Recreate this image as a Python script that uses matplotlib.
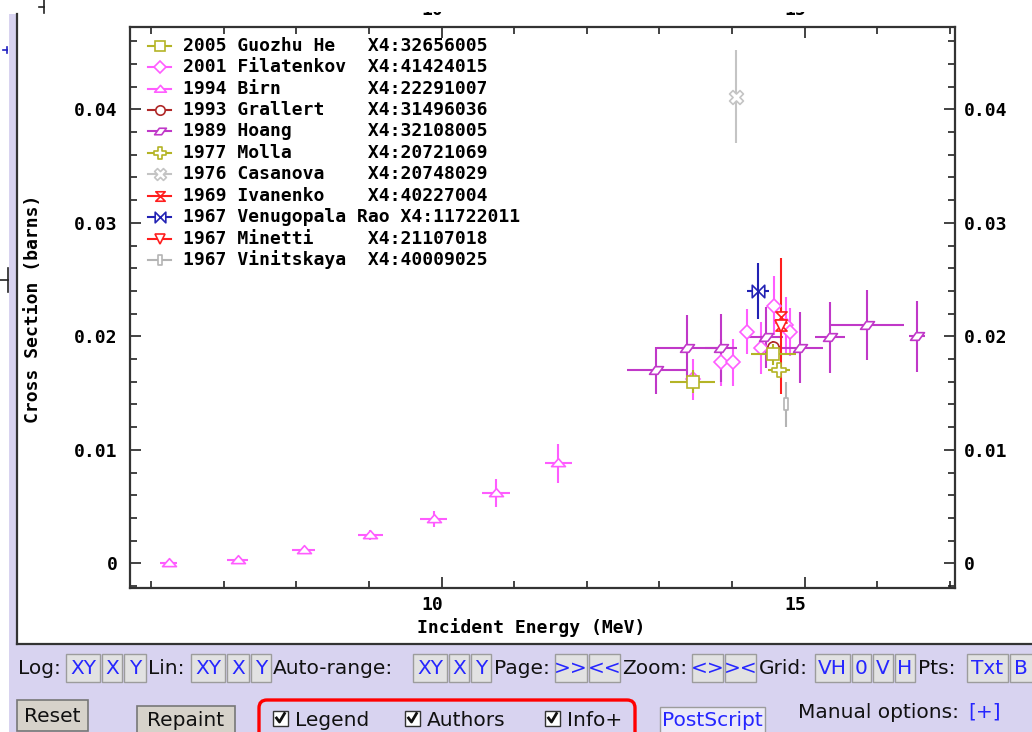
import numpy as np
import matplotlib.pyplot as plt
from matplotlib.path import Path
from matplotlib.patches import Rectangle, FancyBboxPatch
from matplotlib.lines import Line2D
from matplotlib.ticker import MultipleLocator, FuncFormatter
from matplotlib.transforms import IdentityTransform, ScaledTranslation

plt.rcParams['font.family'] = ['DejaVu Sans Mono']
plt.rcParams['font.weight'] = 'bold'

# ---- data: (n,2n) cross section, energy in MeV, sigma in barns ----
he_e = [13.46, 14.57]
he_de = [0.31, 0.31]
he_s = [0.0160, 0.0184]
he_ds = [0.0010, 0.0009]

fil_e = [13.46, 13.85, 14.02, 14.21, 14.40, 14.58, 14.74, 14.80]
fil_s = [0.0162, 0.0177, 0.0177, 0.0204, 0.0190, 0.0227, 0.0210, 0.0204]
fil_ds = [0.0018, 0.0021, 0.0021, 0.0020, 0.0023, 0.0026, 0.0025, 0.0021]

birn_e = [6.24, 7.19, 8.10, 9.02, 9.89, 10.75, 11.61]
birn_de = [0.12, 0.14, 0.16, 0.17, 0.18, 0.19, 0.19]
birn_s = [0.00005, 0.0003, 0.0012, 0.0025, 0.0039, 0.0062, 0.0088]
birn_ds = [0.0001, 0.0002, 0.0003, 0.00045, 0.0007, 0.0012, 0.0017]

gra_e = [14.56]
gra_de = [0.10]
gra_s = [0.0191]
gra_ds = [0.0005]

hoa_e = [12.96, 13.38, 13.85, 14.47, 14.94, 15.35, 15.86, 16.55]
hoa_de = [0.41, 0.41, 0.22, 0.23, 0.32, 0.21, 0.51, 0.11]
hoa_s = [0.0170, 0.0190, 0.0190, 0.0199, 0.0190, 0.0199, 0.0210, 0.0200]
hoa_ds = [0.0021, 0.0029, 0.0030, 0.0027, 0.0031, 0.0031, 0.0031, 0.0031]

mol_e = [14.65]
mol_de = [0.15]
mol_s = [0.0170]
mol_ds = [0.0005]

cas_e = [14.06]
cas_s = [0.0411]
cas_ds = [0.0041]

iva_e = [14.68, 14.68]
iva_s = [0.0217, 0.0210]
iva_ds = [0.0008, 0.0008]

ven_e = [14.36]
ven_de = [0.15]
ven_s = [0.0240]
ven_ds = [0.0025]

min_e = [14.68]
min_s = [0.0209]
min_ds = [0.0060]

vin_e = [14.75]
vin_s = [0.0140]
vin_ds = [0.0020]

labels = [
    "2005 Guozhu He   X4:32656005",
    "2001 Filatenkov  X4:41424015",
    "1994 Birn        X4:22291007",
    "1993 Grallert    X4:31496036",
    "1989 Hoang       X4:32108005",
    "1977 Molla       X4:20721069",
    "1976 Casanova    X4:20748029",
    "1969 Ivanenko    X4:40227004",
    "1967 Venugopala Rao X4:11722011",
    "1967 Minetti     X4:21107018",
    "1967 Vinitskaya  X4:40009025",
]

# ---- marker shapes ----
def poly(pts):
    pts = list(pts) + [pts[0]]
    codes = [Path.MOVETO] + [Path.LINETO] * (len(pts) - 2) + [Path.CLOSEPOLY]
    return Path(pts, codes)

a = 0.33
plus_pts = [(-a, 1), (a, 1), (a, a), (1, a), (1, -a), (a, -a), (a, -1), (-a, -1),
            (-a, -a), (-1, -a), (-1, a), (-a, a)]
c, s_ = np.cos(np.pi / 4), np.sin(np.pi / 4)
cross_pts = [(x * c - y * s_, x * s_ + y * c) for x, y in plus_pts]

m_hoang = poly([(-1, -0.55), (0.2, -0.55), (1, 0.55), (-0.2, 0.55)])
m_tri = poly([(-1, -0.45), (1, -0.45), (0, 0.7)])
m_plus = poly(plus_pts)
m_cross = poly(cross_pts)
m_hour = poly([(-1, 1), (1, 1), (-1, -1), (1, -1)])
m_bow = poly([(-1, 1), (-1, -1), (1, 1), (1, -1)])
m_rect = poly([(-0.3, -1), (0.3, -1), (0.3, 1), (-0.3, 1)])

olive = '#b4b426'
pink = '#ff5cff'
purple = '#c038c8'
red = '#ff1e1e'

series = [
    (he_e, he_s, he_de, he_ds, 's', olive, 8.5, 4),
    (fil_e, fil_s, None, fil_ds, 'D', pink, 6.8, 2),
    (birn_e, birn_s, birn_de, birn_ds, m_tri, pink, 10.0, 2),
    (gra_e, gra_s, gra_de, gra_ds, 'o', '#b02828', 8.0, 2),
    (hoa_e, hoa_s, hoa_de, hoa_ds, m_hoang, purple, 10.0, 2),
    (mol_e, mol_s, mol_de, mol_ds, m_plus, olive, 9.5, 2),
    (cas_e, cas_s, None, cas_ds, m_cross, '#c4c4c4', 10.0, 2),
    (iva_e, iva_s, None, iva_ds, m_hour, red, 8.0, 2),
    (ven_e, ven_s, ven_de, ven_ds, m_bow, '#2222b4', 9.0, 2),
    (min_e, min_s, None, min_ds, 'v', red, 8.0, 2),
    (vin_e, vin_s, None, vin_ds, m_rect, '#b4b4b4', 9.0, 2),
]

W, H = 1032, 732
fig = plt.figure(figsize=(W / 100, H / 100), dpi=100, facecolor='white')
IT = IdentityTransform()


def box(x0, y0, x1, y1, **kw):
    r = Rectangle((x0, H - y1), x1 - x0, y1 - y0, transform=IT, **kw)
    fig.add_artist(r)
    return r


def seg(xs, ys, **kw):
    fig.add_artist(Line2D(xs, [H - y for y in ys], transform=IT, **kw))


def txt(x, y, s, **kw):
    fig.text(x / W, 1 - y / H, s, **kw)


# page background and white plot panel
box(9, 14, W + 5, H + 5, facecolor='#d8d3f0', edgecolor='none', zorder=-3)
box(17, 14, W + 5, 644, facecolor='white', edgecolor='none', zorder=-2)
seg([17, 17], [14, 644], color='#333333', lw=1.6, zorder=-1)
seg([17, W + 5], [644, 644], color='#333333', lw=1.6, zorder=-1)

# ---- main axes ----
ax = fig.add_axes([130 / W, 1 - 588 / H, 825 / W, 561 / H])
ax.set_xlim(5.709, 17.073)
ax.set_ylim(-0.00217, 0.04725)

for e, sg, de, ds, mk, col, ms, zo in series:
    ax.errorbar(e, sg, xerr=de, yerr=ds, fmt='none', ecolor=col,
                elinewidth=1.5, capsize=0, zorder=zo)
    ax.plot(e, sg, linestyle='none', marker=mk, ms=ms, mfc='white',
            mec=col, mew=1.2, zorder=zo + 0.5)

ax.set_xticks([10, 15])
ax.xaxis.set_minor_locator(MultipleLocator(1))
ax.yaxis.set_major_locator(MultipleLocator(0.01))
ax.yaxis.set_minor_locator(MultipleLocator(0.002))
ax.yaxis.set_major_formatter(FuncFormatter(lambda v, p: '0' if abs(v) < 1e-9 else f'{v:.2f}'))
ax.tick_params(which='both', direction='in', top=True, right=True,
               labeltop=True, labelright=True, labelsize=13, width=1.2, color='#222222')
ax.tick_params(which='major', length=8)
ax.tick_params(which='minor', length=5)
ax.tick_params(axis='x', pad=6.0)
ax.tick_params(axis='y', which='major', pad=9)
for sp in ax.spines.values():
    sp.set_linewidth(1.6)
    sp.set_color('#333333')

# x tick labels sit a little to the left of their ticks
shift = ScaledTranslation(-0.09, 0, fig.dpi_scale_trans)
for t in ax.xaxis.get_major_ticks():
    t.label1.set_transform(t.label1.get_transform() + shift)
    t.label2.set_transform(t.label2.get_transform() + shift)
for t in ax.yaxis.get_major_ticks():
    t.label2.set_transform(t.label2.get_transform() +
                           ScaledTranslation(-0.035, 0, fig.dpi_scale_trans))

txt(531, 628, 'Incident Energy (MeV)', ha='center', va='center', fontsize=13)
txt(33, 309, 'Cross Section (barns)', ha='center', va='center', fontsize=13, rotation=90)

# ---- legend ----
for i, (lab, sr) in enumerate(zip(labels, series)):
    yy = 45.7 + i * 21.43
    mk, col, ms = sr[4], sr[5], sr[6]
    seg([148, 171], [yy, yy], color=col, lw=1.5, zorder=3)
    fig.add_artist(Line2D([159.5], [H - yy], transform=IT, marker=mk, ms=ms * 0.85,
                          mfc='white', mec=col, mew=1.2, linestyle='none', zorder=4))
    txt(183, yy, lab, ha='left', va='center', fontsize=13)

# strip above the panel hides the clipped top of the upper tick labels
box(0, 0, W + 5, 12, facecolor='white', edgecolor='none', zorder=5)
seg([44, 44], [0, 13], color='#222222', lw=1.2, zorder=6)
seg([39, 44], [7, 7], color='#222222', lw=1.2, zorder=6)
seg([7, 7], [47, 53], color='#2020c0', lw=1.2, zorder=6)
seg([3, 7], [50, 50], color='#2020c0', lw=1.2, zorder=6)
seg([8, 8], [268, 292], color='#222222', lw=1.2, zorder=6)
seg([0, 8], [280, 280], color='#222222', lw=1.2, zorder=6)

# ---- toolbar ----
blue = '#2626ff'
ui = dict(family='DejaVu Sans', weight='normal', fontsize=14.5, va='center')
row1 = 668
for s, x in [("Log:", 18), ("Lin:", 148), ("Auto-range:", 273), ("Page:", 494),
             ("Zoom:", 622), ("Grid:", 759), ("Pts:", 918)]:
    txt(x, row1, s, ha='left', color='#111111', **ui)
for s, x0, x1 in [("XY", 66, 100), ("X", 102, 122), ("Y", 124, 146),
                  ("XY", 191, 225), ("X", 227, 249), ("Y", 251, 271),
                  ("XY", 413, 447), ("X", 449, 469), ("Y", 471, 491),
                  (">>", 555, 587), ("<<", 589, 620), ("<>", 692, 723), ("><", 725, 756),
                  ("VH", 815, 850), ("0", 852, 871), ("V", 873, 893), ("H", 895, 915),
                  ("Txt", 967, 1008), ("B", 1010, 1045)]:
    box(x0, 654, x1, 682, facecolor='#e2e2e2', edgecolor='#9c9c9c', lw=1.0, zorder=1)
    if s == "B":
        txt(x0 + 4, row1, s, ha='left', color=blue, **ui)
    else:
        txt((x0 + x1) / 2, row1, s, ha='center', color=blue, **ui)

box(17, 700, 88, 731, facecolor='#d6d2ca', edgecolor='#777777', lw=1.2, zorder=1)
txt(52, 716, 'Reset', ha='center', color='#111111', **ui)
box(137, 706, 235, 740, facecolor='#d6d2ca', edgecolor='#777777', lw=1.2, zorder=1)
txt(186, 721, 'Repaint', ha='center', color='#111111', **ui)

fig.add_artist(FancyBboxPatch((259, H - 742), 376, 42, boxstyle='round,pad=0,rounding_size=8',
                              transform=IT, facecolor='none', edgecolor='#ff0000', lw=2.4, zorder=2))
for x, s in [(273, 'Legend'), (405, 'Authors'), (545, 'Info+')]:
    box(x, 711, x + 15, 726, facecolor='white', edgecolor='#333333', lw=1.0, zorder=2)
    seg([x + 3.5, x + 6.5, x + 11.5], [718, 722, 713.5], color='#111111', lw=2.0, zorder=3)
    txt(x + 22, 720, s, ha='left', color='#111111', **ui)

box(660, 707, 765, 740, facecolor='#eceaf8', edgecolor='#9c9c9c', lw=1.0, zorder=1)
txt(712, 720, 'PostScript', ha='center', color=blue, **ui)
txt(798, 712, 'Manual options:', ha='left', color='#111111', **ui)
txt(968, 712, '[+]', ha='left', color=blue, **ui)

fig.savefig('out.png', dpi=100)
